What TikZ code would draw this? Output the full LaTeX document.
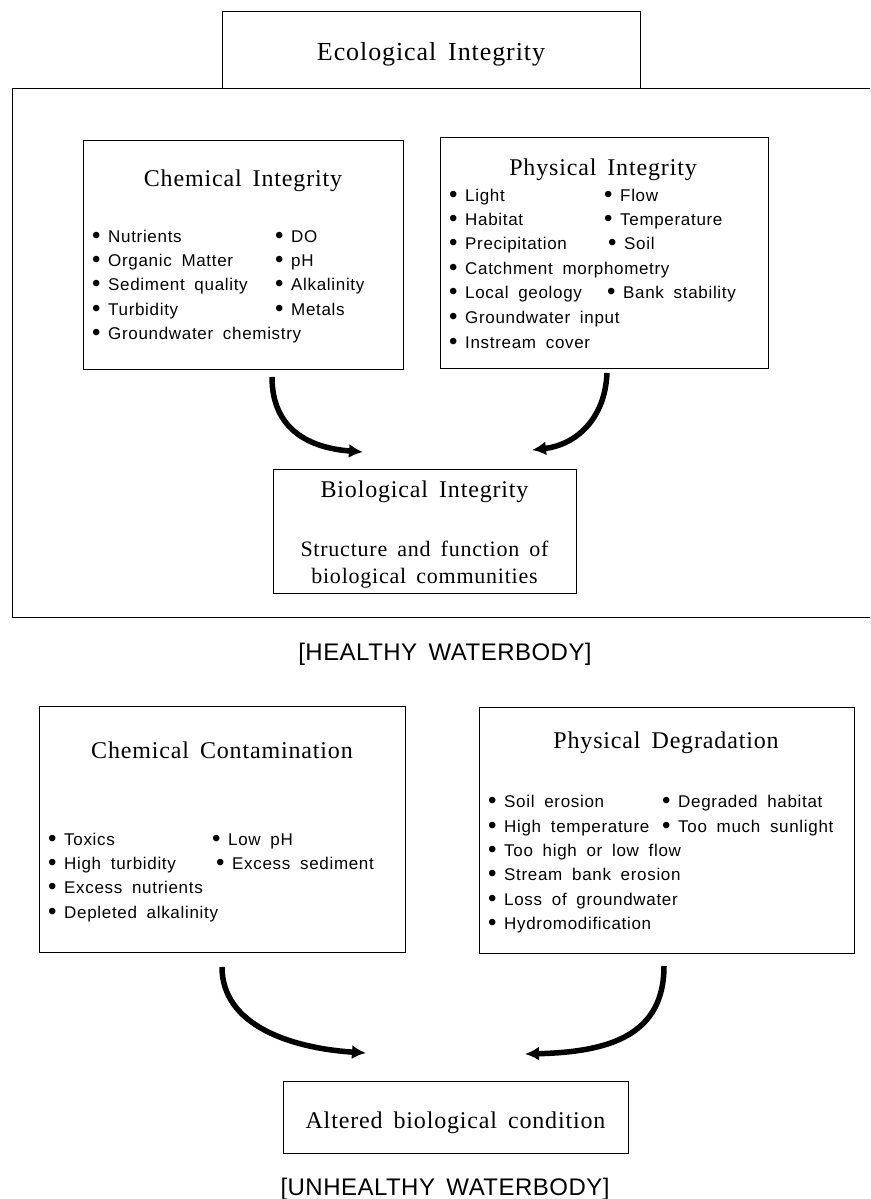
\documentclass[tikz,border=0pt]{standalone}
\usepackage{fontspec}
\setmainfont{Liberation Serif}
\newfontfamily\ttlfont{Liberation Serif}[LetterSpace=3.5,WordSpace=1.6]
\newfontfamily\itmfont{Liberation Sans}[LetterSpace=4,WordSpace=1.8]
\newfontfamily\labfont{Liberation Sans}[LetterSpace=2,WordSpace=1.6]
\usetikzlibrary{arrows.meta}
\newcommand{\bl}[1]{\makebox[16pt][l]{\raisebox{-1.6pt}{\fontsize{24}{24}\selectfont\textbullet}}#1}
\tikzset{
  box/.style={draw, line width=0.9pt, rectangle, inner sep=0pt, anchor=north west},
  ttl/.style={font=\ttlfont\fontsize{24}{28}\selectfont, anchor=base, inner sep=0pt},
  sub/.style={font=\ttlfont\fontsize{22}{26}\selectfont, anchor=base, inner sep=0pt},
  itm/.style={font=\itmfont\fontsize{17}{20}\selectfont, anchor=base west, inner sep=0pt},
  lab/.style={font=\labfont\fontsize{24}{28}\selectfont, anchor=base, inner sep=0pt},
  frame/.style={line width=0.9pt},
  flowarrow/.style={line width=5.5pt, -{Latex[length=14pt,width=14pt]}}
}
\begin{document}
\begin{tikzpicture}[x=1pt,y=-1pt]
\useasboundingbox (0,0) rectangle (870,1199);

% ---------- healthy waterbody ----------
\node[box, minimum width=418pt, minimum height=77pt] (eco) at (222,11) {};
\node[ttl, font=\ttlfont\fontsize{26}{30}\selectfont] (ecot) at (431,60) {Ecological Integrity};
\draw[frame] (870,88) -- (12,88) -- (12,617) -- (870,617);

\node[box, minimum width=320pt, minimum height=229pt] (chem) at (83,140) {};
\node[ttl] (chemt) at (243,186) {Chemical Integrity};
\node[itm] (c1) at (92,242) {\bl{Nutrients}};
\node[itm] (c2) at (92,266) {\bl{Organic Matter}};
\node[itm] (c3) at (92,290) {\bl{Sediment quality}};
\node[itm] (c4) at (92,315) {\bl{Turbidity}};
\node[itm] (c5) at (92,339) {\bl{Groundwater chemistry}};
\node[itm] (c6) at (275,242) {\bl{DO}};
\node[itm] (c7) at (275,266) {\bl{pH}};
\node[itm] (c8) at (275,290) {\bl{Alkalinity}};
\node[itm] (c9) at (275,315) {\bl{Metals}};

\node[box, minimum width=328pt, minimum height=231pt] (phys) at (440,137) {};
\node[ttl] (physt) at (603,175) {Physical Integrity};
\node[itm] (p1) at (449,201) {\bl{Light}};
\node[itm] (p2) at (449,225) {\bl{Habitat}};
\node[itm] (p3) at (449,249) {\bl{Precipitation}};
\node[itm] (p4) at (449,274) {\bl{Catchment morphometry}};
\node[itm] (p5) at (449,298) {\bl{Local geology}};
\node[itm] (p6) at (449,323) {\bl{Groundwater input}};
\node[itm] (p7) at (449,348) {\bl{Instream cover}};
\node[itm] (p8) at (604,201) {\bl{Flow}};
\node[itm] (p9) at (604,225) {\bl{Temperature}};
\node[itm] (p10) at (608,249) {\bl{Soil}};
\node[itm] (p11) at (607,298) {\bl{Bank stability}};

\node[box, minimum width=303pt, minimum height=124pt] (bio) at (273,469) {};
\node[ttl] (biot) at (424.5,497) {Biological Integrity};
\node[sub] (bios1) at (424.5,556) {Structure and function of};
\node[sub] (bios2) at (424.5,583) {biological communities};

\coordinate (a1s) at (272,377);
\coordinate (a1e) at (363,452);
\coordinate (a2s) at (607,373);
\coordinate (a2e) at (532,450);
\draw[flowarrow] (a1s) .. controls (272,430) and (310,448) .. (a1e);
\draw[flowarrow] (a2s) .. controls (605,420) and (575,445) .. (a2e);

\node[lab] (healthy) at (445,660) {[HEALTHY WATERBODY]};

% ---------- unhealthy waterbody ----------
\node[box, minimum width=366pt, minimum height=246pt] (cont) at (39,706) {};
\node[ttl] (contt) at (222,758) {Chemical Contamination};
\node[itm] (u1) at (48,845) {\bl{Toxics}};
\node[itm] (u2) at (48,869) {\bl{High turbidity}};
\node[itm] (u3) at (48,893) {\bl{Excess nutrients}};
\node[itm] (u4) at (48,918) {\bl{Depleted alkalinity}};
\node[itm] (u5) at (212,845) {\bl{Low pH}};
\node[itm] (u6) at (216,869) {\bl{Excess sediment}};

\node[box, minimum width=375pt, minimum height=246pt] (degr) at (479,707) {};
\node[ttl] (degrt) at (666,748) {Physical Degradation};
\node[itm] (d1) at (488,807) {\bl{Soil erosion}};
\node[itm] (d2) at (488,832) {\bl{High temperature}};
\node[itm] (d3) at (488,856) {\bl{Too high or low flow}};
\node[itm] (d4) at (488,880) {\bl{Stream bank erosion}};
\node[itm] (d5) at (488,905) {\bl{Loss of groundwater}};
\node[itm] (d6) at (488,929) {\bl{Hydromodification}};
\node[itm] (d7) at (662,807) {\bl{Degraded habitat}};
\node[itm] (d8) at (662,832) {\bl{Too much sunlight}};

\node[box, minimum width=345pt, minimum height=72pt] (alt) at (283,1081) {};
\node[ttl] (altt) at (455.5,1128) {Altered biological condition};

\coordinate (b1s) at (222,967);
\coordinate (b1e) at (366,1053);
\coordinate (b2s) at (664,966);
\coordinate (b2e) at (525,1054);
\draw[flowarrow] (b1s) .. controls (222,1025) and (290,1048) .. (b1e);
\draw[flowarrow] (b2s) .. controls (664,1035) and (610,1052) .. (b2e);

\node[lab] (unhealthy) at (445,1195) {[UNHEALTHY WATERBODY]};
\end{tikzpicture}
\end{document}
